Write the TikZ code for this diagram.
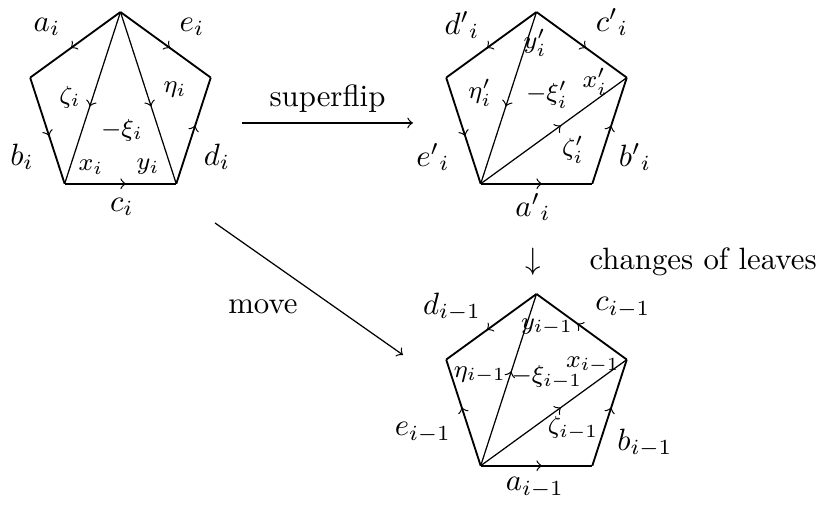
\documentclass[tikz,border=0pt]{standalone}
\usetikzlibrary{decorations.markings}
\begin{document}
\begin{tikzpicture}[
  midarrow/.style={postaction={decorate}, decoration={markings, mark=at position 0.55 with {\arrow[line width=0.4pt]{>}}}},
  side/.style={semithick, midarrow},
  diag/.style={midarrow},
  inner/.style={font=\footnotesize, inner sep=1pt}]
\useasboundingbox (0,0) rectangle (9.307,5.782);
% pentagon corners
\foreach \p/\x/\y in {A/1.374/4.562, B/6.119/4.562, C/6.119/1.346} {
  \coordinate (\p) at (\x,\y);
  \foreach \v/\a in {t/90, l/162, bl/234, br/306, r/18}
    \path (\p) ++(\a:1.083) coordinate (\p\v);
}
% first pentagon
\draw[side] (At) -- (Al);
\draw[side] (Al) -- (Abl);
\draw[side] (Abl) -- (Abr);
\draw[side] (Abr) -- (Ar);
\draw[side] (At) -- (Ar);
\draw[diag] (At) -- (Abl);
\draw[diag] (At) -- (Abr);
\node (ai) at (0.536,5.474) {$a_i$};
\node (ei) at (2.190,5.474) {$e_i$};
\node (bi) at (0.251,3.992) {$b_i$};
\node (di) at (2.475,3.992) {$d_i$};
\node (ci) at (1.391,3.422) {$c_i$};
\node[inner] (zetai) at (0.798,4.676) {$\zeta_i$};
\node[inner] (etai) at (1.996,4.756) {$\eta_i$};
\node[inner] (xii) at (1.391,4.300) {$-\xi_i$};
\node[inner] (xi) at (1.038,3.878) {$x_i$};
\node[inner] (yi) at (1.688,3.878) {$y_i$};
% after the superflip
\draw[side] (Bt) -- (Bl);
\draw[side] (Bl) -- (Bbl);
\draw[side] (Bbl) -- (Bbr);
\draw[side] (Bbr) -- (Br);
\draw[side] (Bt) -- (Br);
\draw[diag] (Bt) -- (Bbl);
\draw[diag] (Bbl) -- (Br);
\node (dpi) at (5.269,5.497) {${d'}_i$};
\node (cpi) at (6.980,5.531) {${c'}_i$};
\node (epi) at (4.938,3.992) {${e'}_i$};
\node (bpi) at (7.242,3.992) {${b'}_i$};
\node (api) at (6.079,3.422) {${a'}_i$};
\node[inner] (ypi) at (6.102,5.292) {$y'_i$};
\node[inner] (etapi) at (5.474,4.722) {$\eta'_i$};
\node[inner] (xipi) at (6.238,4.699) {$-\xi'_i$};
\node[inner] (xpi) at (6.786,4.847) {$x'_i$};
\node[inner] (zetapi) at (6.535,4.072) {$\zeta'_i$};
% after the changes of leaves
\draw[side] (Ct) -- (Cl);
\draw[side] (Cbl) -- (Cl);
\draw[side] (Cbl) -- (Cbr);
\draw[side] (Cbr) -- (Cr);
\draw[side] (Cr) -- (Ct);
\draw[diag] (Cbl) -- (Ct);
\draw[diag] (Cbl) -- (Cr);
\node (dm) at (5.155,2.281) {$d_{i-1}$};
\node (cm) at (7.105,2.270) {$c_{i-1}$};
\node (em) at (4.824,0.844) {$e_{i-1}$};
\node (bm) at (7.356,0.730) {$b_{i-1}$};
\node (am) at (6.102,0.217) {$a_{i-1}$};
\node[inner] (ym) at (6.238,2.053) {$y_{i-1}$};
\node[inner] (etam) at (5.474,1.505) {$\eta_{i-1}$};
\node[inner] (xim) at (6.238,1.483) {$-\xi_{i-1}$};
\node[inner] (xm) at (6.763,1.620) {$x_{i-1}$};
\node[inner] (zetam) at (6.535,0.901) {$\zeta_{i-1}$};
% the moves between them
\coordinate (sfa) at (2.760,4.380);
\coordinate (sfb) at (4.710,4.380);
\draw[->] (sfa) -- node[above] (superflip) {superflip} (sfb);
\coordinate (mva) at (2.452,3.239);
\coordinate (mvb) at (4.596,1.734);
\draw[->] (mva) -- (mvb);
\node (move) at (2.999,2.281) {move};
\node (down) at (6.079,2.794) {$\downarrow$};
\node[anchor=west] (leaves) at (6.600,2.794) {changes of leaves};
\end{tikzpicture}
\end{document}
